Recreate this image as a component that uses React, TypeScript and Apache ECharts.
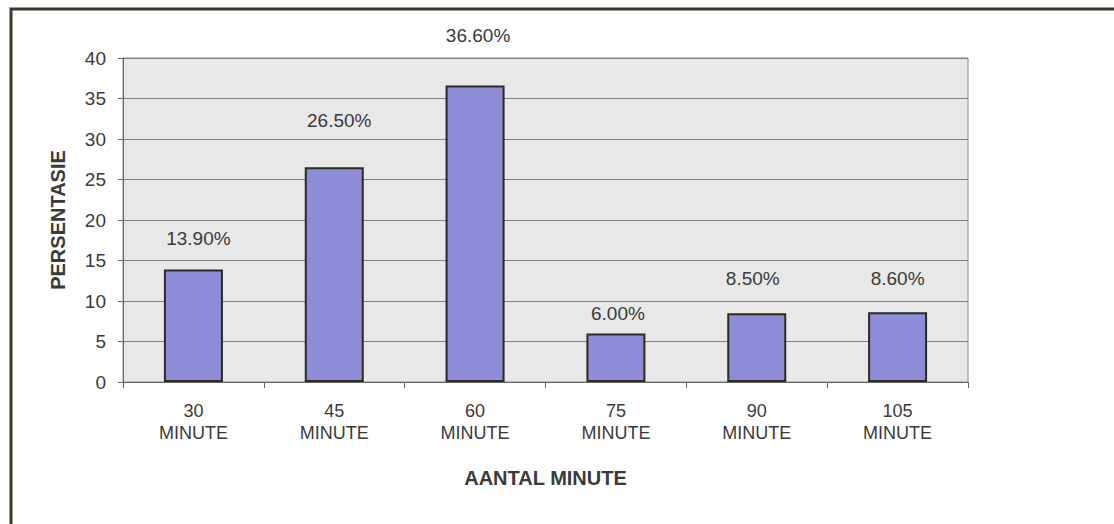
import React, { useEffect, useRef } from "react";
import * as echarts from "echarts";

const categories = ["30\nMINUTE", "45\nMINUTE", "60\nMINUTE", "75\nMINUTE", "90\nMINUTE", "105\nMINUTE"];
const percentages = [13.9, 26.5, 36.6, 6.0, 8.5, 8.6];
const yTicks = { min: 0, max: 40, interval: 5 };
const yAxisName = "PERSENTASIE";
const xAxisName = "AANTAL MINUTE";
// label placement tweaks (style only)
const labelOffsets: [number, number][] = [
  [5, -21],
  [5, -37],
  [3, -41],
  [2, -10],
  [-4, -25],
  [0, -24],
];

const FONT = "'Liberation Sans', Arial, sans-serif";

export default function App() {
  const ref = useRef<HTMLDivElement>(null);
  useEffect(() => {
    if (!ref.current) return;
    const chart = echarts.init(ref.current, null, { renderer: "svg" });
    chart.setOption({
      animation: false,
      backgroundColor: "#ffffff",
      textStyle: { fontFamily: FONT },
      graphic: [
        {
          type: "rect",
          shape: { x: 11, y: 9, width: 1200, height: 700 },
          style: { fill: "none", stroke: "#3a3a2a", lineWidth: 3 },
          silent: true,
        },
      ],
      grid: {
        left: 123,
        top: 58,
        right: 146,
        bottom: 142,
        show: true,
        backgroundColor: "#e8e8e8",
        borderColor: "#8a8a8a",
        borderWidth: 1,
      },
      xAxis: {
        type: "category",
        data: categories,
        boundaryGap: true,
        name: xAxisName,
        nameLocation: "middle",
        nameGap: 86,
        nameTextStyle: { fontFamily: FONT, fontSize: 20, fontWeight: "bold", color: "#3a3a3a" },
        axisLine: { show: true, lineStyle: { color: "#666", width: 1 } },
        axisTick: { show: true, alignWithLabel: false, length: 6, lineStyle: { color: "#666" } },
        axisLabel: {
          margin: 18,
          fontFamily: FONT,
          fontSize: 18,
          lineHeight: 22,
          color: "#3a3a3a",
          interval: 0,
        },
        splitLine: { show: false },
      },
      yAxis: {
        type: "value",
        min: yTicks.min,
        max: yTicks.max,
        interval: yTicks.interval,
        name: yAxisName,
        nameLocation: "middle",
        nameRotate: 90,
        nameGap: 55,
        nameTextStyle: { fontFamily: FONT, fontSize: 20, fontWeight: "bold", color: "#3a3a3a" },
        axisLine: { show: true, lineStyle: { color: "#666", width: 1 } },
        axisTick: { show: true, length: 5, lineStyle: { color: "#666" } },
        axisLabel: { margin: 17, fontFamily: FONT, fontSize: 19, color: "#3a3a3a" },
        splitLine: { show: true, lineStyle: { color: "#808080", width: 1 } },
      },
      series: [
        {
          type: "bar",
          barWidth: 59,
          data: percentages.map((v, i) => ({
            value: v,
            label: { offset: labelOffsets[i] },
          })),
          itemStyle: { color: "#8e8cd6", borderColor: "#2b2b20", borderWidth: 2 },
          label: {
            show: true,
            position: "top",
            distance: 0,
            fontFamily: FONT,
            fontSize: 19,
            color: "#3a3a3a",
            formatter: (p: any) => Number(p.value).toFixed(2) + "%",
          },
        },
      ],
    });
    return () => chart.dispose();
  }, []);
  return (
    <div
      ref={ref}
      style={{ position: "fixed", left: 0, top: 0, width: 1114, height: 524 }}
    />
  );
}
